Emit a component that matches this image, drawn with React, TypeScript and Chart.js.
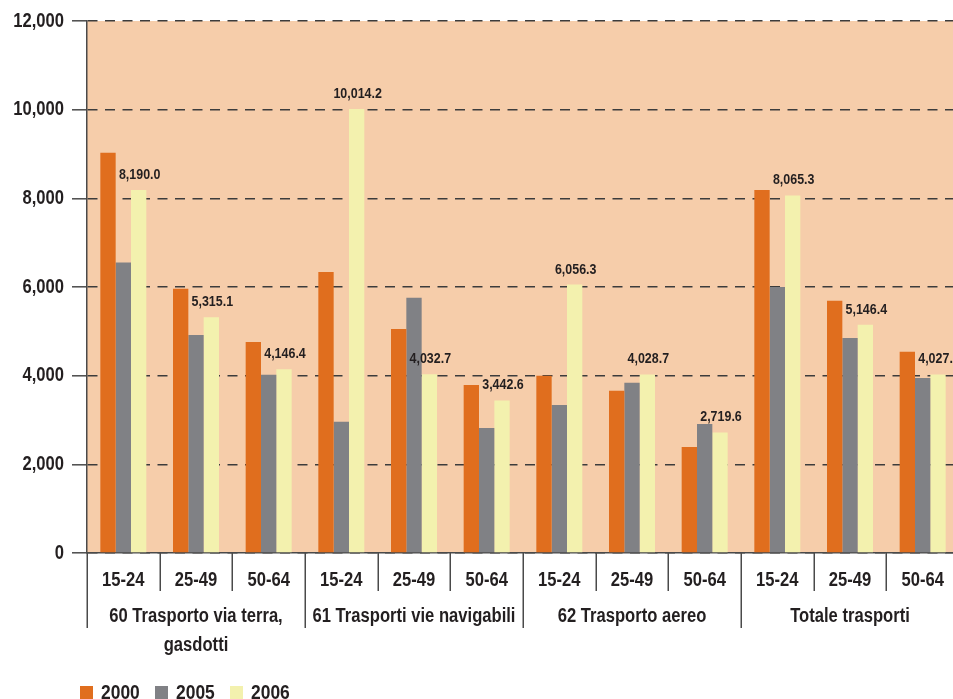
import React, { useEffect, useRef } from 'react';
import { Chart, registerables } from 'chart.js';

Chart.register(...registerables);

// Age bands repeated under every sector
const ageBands = ['15-24', '25-49', '50-64'];
// Sector captions (one entry per line)
const sectors: string[][] = [
  ['60 Trasporto via terra,', 'gasdotti'],
  ['61 Trasporti vie navigabili'],
  ['62 Trasporto aereo'],
  ['Totale trasporti'],
];
const seriesNames = ['2000', '2005', '2006'];
const values2000 = [9030, 5960, 4760, 6340, 5050, 3790, 4000, 3660, 2390, 8190, 5690, 4540];
const values2005 = [6550, 4920, 4020, 2960, 5760, 2820, 3340, 3840, 2910, 6000, 4850, 3950];
const values2006 = [8190.0, 5315.1, 4146.4, 10014.2, 4032.7, 3442.6, 6056.3, 4028.7, 2719.6, 8065.3, 5146.4, 4027.6];
const yMin = 0;
const yMax = 12000;
const yStep = 2000;

const seriesColors = ['#E06E1E', '#808185', '#F3F1AE'];
const plotFill = '#F6CDAA';
const inkColor = '#231F20';
const lineColor = '#4A4A4A';
const FONT = "'Liberation Sans', Arial, sans-serif";
const NARROW = 0.83; // horizontal squeeze for a condensed look

const categories: string[] = [];
sectors.forEach((_, s) => ageBands.forEach((a) => categories.push(`${s}|${a}`)));

const fmtInt = (v: number) => v.toLocaleString('en-US');
const fmtOne = (v: number) =>
  v.toLocaleString('en-US', { minimumFractionDigits: 1, maximumFractionDigits: 1 });

function narrowText(
  ctx: CanvasRenderingContext2D,
  text: string,
  x: number,
  y: number,
  size: number,
  align: CanvasTextAlign,
  baseline: CanvasTextBaseline = 'alphabetic'
) {
  ctx.save();
  ctx.translate(x, y);
  ctx.scale(NARROW, 1);
  ctx.font = `bold ${size}px ${FONT}`;
  ctx.textAlign = align;
  ctx.textBaseline = baseline;
  ctx.fillStyle = inkColor;
  ctx.fillText(text, 0, 0);
  ctx.restore();
}

const decorPlugin = {
  id: 'decor',
  beforeDraw(chart: any) {
    const { ctx, chartArea } = chart;
    ctx.save();
    ctx.fillStyle = plotFill;
    ctx.fillRect(chartArea.left, chartArea.top, chartArea.right - chartArea.left, chartArea.bottom - chartArea.top);
    ctx.restore();
  },
  afterDraw(chart: any) {
    const { ctx, chartArea } = chart;
    const xs = chart.scales.x;
    const ys = chart.scales.y;
    const base = chartArea.bottom;
    ctx.save();

    // y tick labels
    ys.ticks.forEach((t: any) => {
      narrowText(ctx, fmtInt(t.value), chartArea.left - 23, ys.getPixelForValue(t.value), 20, 'right', 'middle');
    });

    // separators between categories and sectors
    ctx.strokeStyle = lineColor;
    ctx.lineWidth = 1.5;
    for (let i = 0; i <= categories.length; i++) {
      const x = Math.round(xs.getPixelForValue(i - 0.5)) + 0.25;
      const long = i % ageBands.length === 0;
      ctx.beginPath();
      ctx.moveTo(x, base);
      ctx.lineTo(x, base + (long ? 75 : 38));
      ctx.stroke();
    }

    // age band labels
    categories.forEach((c, i) => {
      narrowText(ctx, c.split('|')[1], xs.getPixelForValue(i), base + 33, 20, 'center');
    });

    // sector captions
    sectors.forEach((lines, s) => {
      const cx = xs.getPixelForValue(s * ageBands.length + (ageBands.length - 1) / 2);
      lines.forEach((ln, k) => narrowText(ctx, ln, cx, base + 69 + k * 29, 20, 'center'));
    });

    // value labels above the 2006 bars
    const meta = chart.getDatasetMeta(2);
    meta.data.forEach((bar: any, i: number) => {
      narrowText(ctx, fmtOne(values2006[i]), bar.x + 1, bar.y - 11, 15, 'center');
    });

    // legend
    const lx = [80, 155, 230];
    seriesNames.forEach((name, k) => {
      ctx.fillStyle = seriesColors[k];
      ctx.fillRect(lx[k], 686, 13, 13);
      narrowText(ctx, name, lx[k] + 21, 699, 21, 'left');
    });
    ctx.restore();
  },
};

export default function App() {
  const canvasRef = useRef<HTMLCanvasElement | null>(null);

  useEffect(() => {
    if (!canvasRef.current) return;
    const data = [values2000, values2005, values2006];
    const chart = new Chart(canvasRef.current, {
      type: 'bar',
      data: {
        labels: categories,
        datasets: seriesNames.map((name, k) => ({
          label: name,
          data: data[k],
          backgroundColor: seriesColors[k],
          borderWidth: 0,
          categoryPercentage: 0.633,
          barPercentage: 1,
        })),
      },
      options: {
        animation: false,
        responsive: false,
        devicePixelRatio: 1,
        layout: { padding: { top: 21, left: 0, right: 3, bottom: 0 } },
        plugins: { legend: { display: false }, tooltip: { enabled: false } },
        scales: {
          x: {
            offset: true,
            grid: { display: false },
            border: { display: true, color: lineColor, width: 1.5 },
            ticks: { display: false },
            afterFit: (scale: any) => {
              scale.height = 146;
            },
          },
          y: {
            min: yMin,
            max: yMax,
            ticks: { stepSize: yStep, display: false },
            grid: {
              color: '#3C3C3C',
              lineWidth: 1.6,
              tickLength: 15,
              tickColor: lineColor,
              tickWidth: 1.5,
              tickBorderDash: [],
            },
            border: { display: true, color: lineColor, width: 1.5, dash: [10, 7.5] },
            afterFit: (scale: any) => {
              scale.width = 87;
            },
          },
        },
      },
      plugins: [decorPlugin],
    });
    return () => chart.destroy();
  }, []);

  return (
    <div style={{ position: 'fixed', left: 0, top: 0, width: 953, height: 699, overflow: 'hidden', background: '#fff' }}>
      <canvas ref={canvasRef} width={962} height={699} style={{ width: 962, height: 699, display: 'block' }} />
    </div>
  );
}
